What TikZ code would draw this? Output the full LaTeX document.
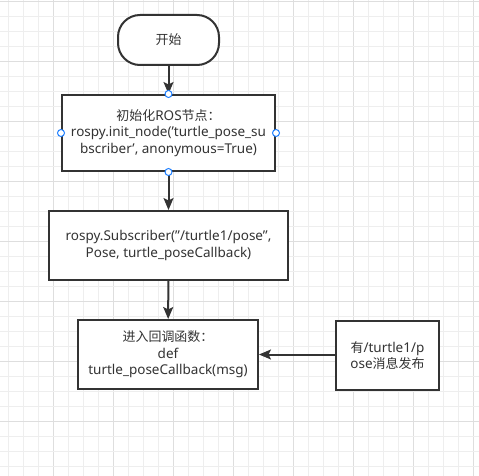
\documentclass[tikz,border=0pt]{standalone}
\usepackage{fontspec}
\setmainfont{Noto Sans}
\newfontfamily\cjk[Scale=0.96]{Noto Sans CJK SC}
\usetikzlibrary{arrows.meta}
\definecolor{ink}{RGB}{51,51,51}
\definecolor{gridminor}{RGB}{238,238,238}
\definecolor{gridmajor}{RGB}{222,222,222}
\definecolor{handle}{RGB}{30,127,255}
\newcommand{\sq}{\symbol{"27}}
\newcommand{\dq}{\symbol{"22}}
\tikzset{
  box/.style={draw=ink, line width=2pt, fill=white, text=ink, align=center, inner sep=0pt,
    font=\fontsize{13.5}{16.5}\selectfont},
  term/.style={box, rounded corners=22pt},
  flow/.style={draw=ink, line width=2pt, -{Stealth[length=12pt,width=10pt,inset=2.5pt]}},
  hdl/.style={circle, draw=handle, fill=white, line width=1pt, minimum size=7pt, inner sep=0pt},
}
\begin{document}
\begin{tikzpicture}[x=1pt,y=-1pt]
\useasboundingbox (0,0) rectangle (479,476);
\fill[white] (0,0) rectangle (479,476);
% grid
\foreach \k in {0,...,31}{
  \pgfmathtruncatemacro{\m}{mod(\k,4)}
  \ifnum\m=3 \draw[gridmajor, line width=1pt] (8+15*\k,0) -- (8+15*\k,476);
  \else \draw[gridminor, line width=1pt] (8+15*\k,0) -- (8+15*\k,476); \fi
}
\foreach \k in {0,...,31}{
  \pgfmathtruncatemacro{\m}{mod(\k,4)}
  \ifnum\m=0 \draw[gridmajor, line width=1pt] (0,1.5+15*\k) -- (479,1.5+15*\k);
  \else \draw[gridminor, line width=1pt] (0,1.5+15*\k) -- (479,1.5+15*\k); \fi
}
% nodes
\node[term, minimum width=101pt, minimum height=50pt] (start) at (168.5,40) {{\cjk 开始}};
\node[box, minimum width=213pt, minimum height=76pt] (init) at (168.5,133) {{\cjk 初始化}ROS{\cjk 节点：}\\rospy.init\_node(\sq turtle\_pose\_su\\bscriber\sq, anonymous=True)};
\node[box, minimum width=239pt, minimum height=69pt] (sub) at (168.5,245.5) {rospy.Subscriber(\dq/turtle1/pose\dq,\\Pose, turtle\_poseCallback)};
\node[box, minimum width=180pt, minimum height=69pt] (cb) at (168,354.5) {{\cjk 进入回调函数：}\\def\\turtle\_poseCallback(msg)};
\node[box, minimum width=103pt, minimum height=69pt] (pub) at (387.5,355.5) {{\cjk 有}/turtle1/p\\ose{\cjk 消息发布}};
% connectors
\draw[flow] (start) -- (init);
\draw[flow] (init) -- (sub);
\draw[flow] (sub) -- (cb);
\draw[flow] (pub.west |- cb.east) -- (cb.east);
% handles
\node[hdl] (h1) at (init.north) {};
\node[hdl] (h2) at (init.south) {};
\node[hdl] (h3) at (init.west) {};
\node[hdl] (h4) at (init.east) {};
\end{tikzpicture}
\end{document}
